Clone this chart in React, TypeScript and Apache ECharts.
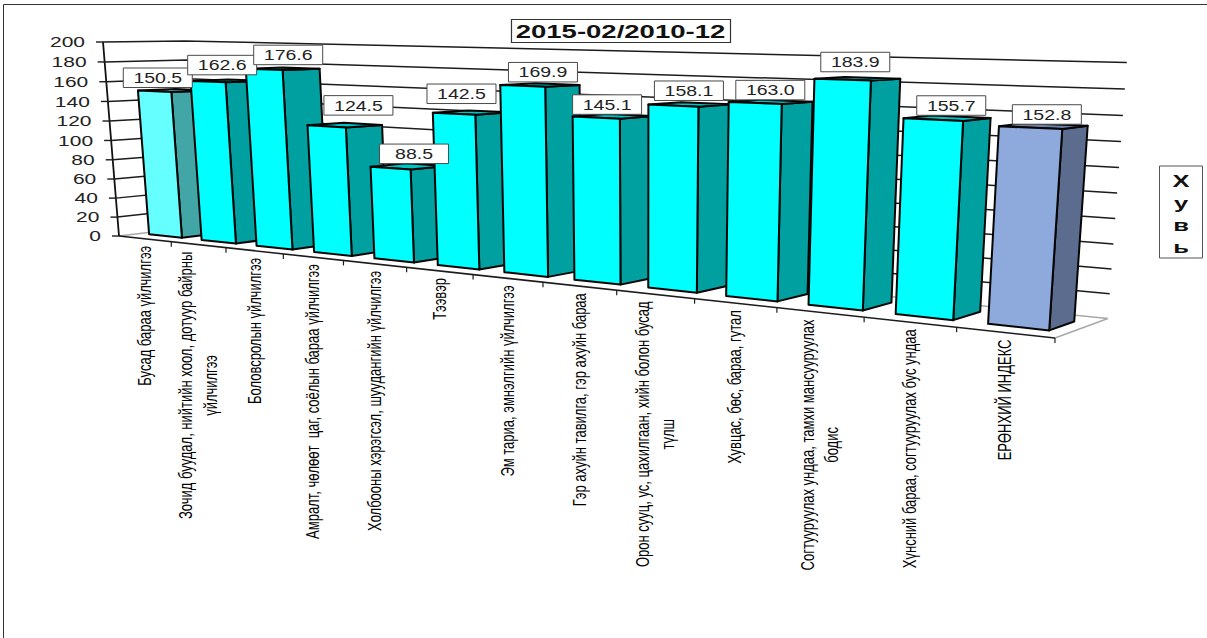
import React, { useEffect, useRef } from "react";
import * as echarts from "echarts";

const categories = [
  "Бусад бараа үйлчилгээ",
  "Зочид буудал, нийтийн хоол, дотуур байрны\nүйлчилгээ",
  "Боловсролын үйлчилгээ",
  "Амралт, чөлөөт  цаг, соёлын бараа үйлчилгээ",
  "Холбооны хэрэгсэл, шуудангийн үйлчилгээ",
  "Тээвэр",
  "Эм тариа, эмнэлгийн үйлчилгээ",
  "Гэр ахуйн тавилга, гэр ахуйн бараа",
  "Орон сууц, ус, цахилгаан, хийн болон бусад\nтүлш",
  "Хувцас, бөс, бараа, гутал",
  "Согтууруулах ундаа, тамхи мансууруулах\nбодис",
  "Хүнсний бараа, согтууруулах бус ундаа",
  "ЕРӨНХИЙ ИНДЕКС",
];
const values = [150.5, 162.6, 176.6, 124.5, 88.5, 142.5, 169.9, 145.1, 158.1, 163.0, 183.9, 155.7, 152.8];
const yTicks = [0, 20, 40, 60, 80, 100, 120, 140, 160, 180, 200];
const titleText = "2015-02/2010-12";
const axisTitleLetters = ["Х", "у", "в", "ь"];

// layout only
const labelNudgeX = [-13, -2, 8, 16, 8, -8, 5, -4, 1, 1, -1, 5, 4];
const labelNudgeY = [-13, -16, -14, -20, -13, -19, -13, -12, -14, -12, -17, -13, -12];
const GRID = { left: 119, top: 42, width: 936, height: 194 };
const N = categories.length;
const YMAX = 200;
const FONT = '"Liberation Sans", Arial, sans-serif';

// perspective camera of the 3-D plot: u = category position, v = value, d = depth (0 front, 1 back)
function project(u: number, v: number, d: number): number[] {
  const t = v / YMAX;
  const w = 1 - 0.02232 * u + 0.04574 * d - 0.0296 * t;
  return [
    (119 + 48.45 * u + 88.23 * d - 19.05 * t) / w,
    (236 + 0.3 * u + 0.78 * d - 195.24 * t) / w,
  ];
}

function fromScale(api: any, i: number, v: number) {
  const [gx, gy] = api.coord([i, v]);
  return {
    u: (gx - GRID.left) / (GRID.width / N),
    v: ((GRID.top + GRID.height - gy) / GRID.height) * YMAX,
  };
}

const measure = (() => {
  const ctx = document.createElement("canvas").getContext("2d") as CanvasRenderingContext2D;
  return (text: string, font: string) => {
    ctx.font = font;
    return Math.max(...text.split("\n").map((l) => ctx.measureText(l).width));
  };
})();

const HALF_W = 0.315;
const SHIFT_U = -0.02;
const D0 = 0.265;
const D1 = 0.73;
const INK = "#050505";

function barColors(i: number) {
  if (i === 0) return { front: "#66FFFF", side: "#42A6A6", top: "#55C8C8" };
  if (i === N - 1) return { front: "#8EA9DB", side: "#5C6C8E", top: "#6D80A8" };
  return { front: "#00FFFF", side: "#00A0A0", top: "#00C4C4" };
}

function renderWall(_p: any, api: any) {
  const { v } = fromScale(api, 0, api.value(1));
  const a = project(0, v, 0);
  const b = project(0, v, 1);
  const c = project(13, v, 1);
  const stroke = v < 1 ? "#a8a8a8" : "#1c1c1c";
  const children: any[] = [
    { type: "polyline", shape: { points: [a, b, c] }, style: { fill: "none", stroke, lineWidth: 1.5 } },
    {
      type: "line",
      shape: { x1: a[0] - 7, y1: a[1], x2: a[0], y2: a[1] },
      style: { stroke: "#1c1c1c", lineWidth: 1.4 },
    },
    {
      type: "text",
      x: a[0] - 18,
      y: a[1],
      scaleX: 1.4,
      style: {
        text: String(api.value(1)),
        font: `15px ${FONT}`,
        fill: "#222",
        align: "right",
        verticalAlign: "middle",
      },
    },
  ];
  if (v < 1) {
    const f0 = project(0, 0, 0);
    const f1 = project(13, 0, 0);
    const cap = project(0, YMAX, 0);
    children.push(
      { type: "line", shape: { x1: f1[0], y1: f1[1], x2: c[0], y2: c[1] }, style: { stroke: "#a8a8a8", lineWidth: 1.5 } },
      { type: "line", shape: { x1: f0[0], y1: f0[1], x2: f1[0], y2: f1[1] }, style: { stroke: "#1c1c1c", lineWidth: 1.6 } },
      { type: "line", shape: { x1: f0[0], y1: f0[1], x2: cap[0], y2: cap[1] }, style: { stroke: "#111", lineWidth: 1.8 } }
    );
  }
  return { type: "group", children };
}

function renderBar(_p: any, api: any) {
  const i = api.value(0);
  const { u, v } = fromScale(api, i, api.value(1));
  const u0 = u + SHIFT_U - HALF_W;
  const u1 = u + SHIFT_U + HALF_W;
  const col = barColors(i);
  const poly = (pts: number[][], fill: string) => ({
    type: "polygon",
    shape: { points: pts },
    style: { fill, stroke: INK, lineWidth: 2, lineJoin: "round" },
  });
  return {
    type: "group",
    children: [
      poly([project(u1, 0, D0), project(u1, 0, D1), project(u1, v, D1), project(u1, v, D0)], col.side),
      poly([project(u0, v, D0), project(u1, v, D0), project(u1, v, D1), project(u0, v, D1)], col.top),
      poly([project(u0, 0, D0), project(u1, 0, D0), project(u1, v, D0), project(u0, v, D0)], col.front),
    ],
  };
}

function renderCategory(_p: any, api: any) {
  const i = api.value(0);
  const { u } = fromScale(api, i, 0);
  const tick = project(u + 0.5, 0, 0);
  const mid = project(u, 0, 0);
  const font = `13px ${FONT}`;
  const text = categories[i];
  const len = measure(text, font);
  return {
    type: "group",
    children: [
      {
        type: "line",
        shape: { x1: tick[0], y1: tick[1], x2: tick[0], y2: tick[1] + 5 },
        style: { stroke: "#1c1c1c", lineWidth: 1.2 },
      },
      {
        type: "text",
        x: mid[0],
        y: mid[1] + 7 + len / 2,
        rotation: Math.PI / 2,
        scaleY: 1.35,
        style: { text, font, fill: "#000", align: "center", verticalAlign: "middle", lineHeight: 18 },
      },
    ],
  };
}

function renderLabel(_p: any, api: any) {
  const i = api.value(0);
  const { u, v } = fromScale(api, i, api.value(1));
  const p = project(u, v, 0.45);
  const cx = p[0] + labelNudgeX[i];
  const cy = p[1] + labelNudgeY[i];
  return {
    type: "group",
    children: [
      {
        type: "rect",
        shape: { x: cx - 34.5, y: cy - 9.75, width: 69, height: 19.5 },
        style: { fill: "#fff", stroke: "#4a4a4a", lineWidth: 1 },
      },
      {
        type: "text",
        x: cx,
        y: cy,
        scaleX: 1.3,
        style: {
          text: api.value(1).toFixed(1),
          font: `15px ${FONT}`,
          fill: "#222",
          align: "center",
          verticalAlign: "middle",
        },
      },
    ],
  };
}

export default function App() {
  const ref = useRef<HTMLDivElement>(null);
  useEffect(() => {
    const chart = echarts.init(ref.current as HTMLDivElement, undefined, { renderer: "svg" });
    const barData = values.map((v, i) => [i, v]);
    chart.setOption({
      animation: false,
      backgroundColor: "#fff",
      grid: { ...GRID, containLabel: false },
      xAxis: { type: "category", data: categories, show: false },
      yAxis: { type: "value", min: 0, max: YMAX, interval: 20, show: false },
      graphic: {
        elements: [
          {
            type: "polyline",
            z: 50,
            shape: { points: [[3.5, 638], [3.5, 4.5], [1207, 4.5]] },
            style: { fill: "none", stroke: "#333", lineWidth: 1 },
          },
          {
            type: "rect",
            z: 50,
            shape: { x: 511.5, y: 19.5, width: 219, height: 23 },
            style: { fill: "#fff", stroke: "#333", lineWidth: 1.2 },
          },
          {
            type: "text",
            z: 51,
            x: 620.5,
            y: 31.5,
            scaleX: 1.53,
            style: {
              text: titleText,
              font: `bold 18px ${FONT}`,
              fill: "#111",
              align: "center",
              verticalAlign: "middle",
            },
          },
          {
            type: "rect",
            z: 50,
            shape: { x: 1159.5, y: 166, width: 43, height: 92 },
            style: { fill: "#fff", stroke: "#555", lineWidth: 1 },
          },
          ...axisTitleLetters.map((ch, k) => ({
            type: "text",
            z: 51,
            x: 1181,
            y: 181 + k * 22,
            scaleX: 1.5,
            style: {
              text: ch,
              font: `bold 17px ${FONT}`,
              fill: "#111",
              align: "center",
              verticalAlign: "middle",
            },
          })),
        ],
      },
      series: [
        { type: "custom", z: 1, renderItem: renderWall, data: yTicks.map((v) => [0, v]), encode: { x: 0, y: 1 }, silent: true },
        { type: "custom", z: 2, renderItem: renderCategory, data: barData, encode: { x: 0, y: 1 }, silent: true },
        { type: "custom", z: 3, renderItem: renderBar, data: barData, encode: { x: 0, y: 1 }, silent: true },
        { type: "custom", z: 4, renderItem: renderLabel, data: barData, encode: { x: 0, y: 1 }, silent: true },
      ],
    });
    return () => chart.dispose();
  }, []);
  return <div ref={ref} style={{ position: "fixed", left: 0, top: 0, width: 1207, height: 638 }} />;
}
